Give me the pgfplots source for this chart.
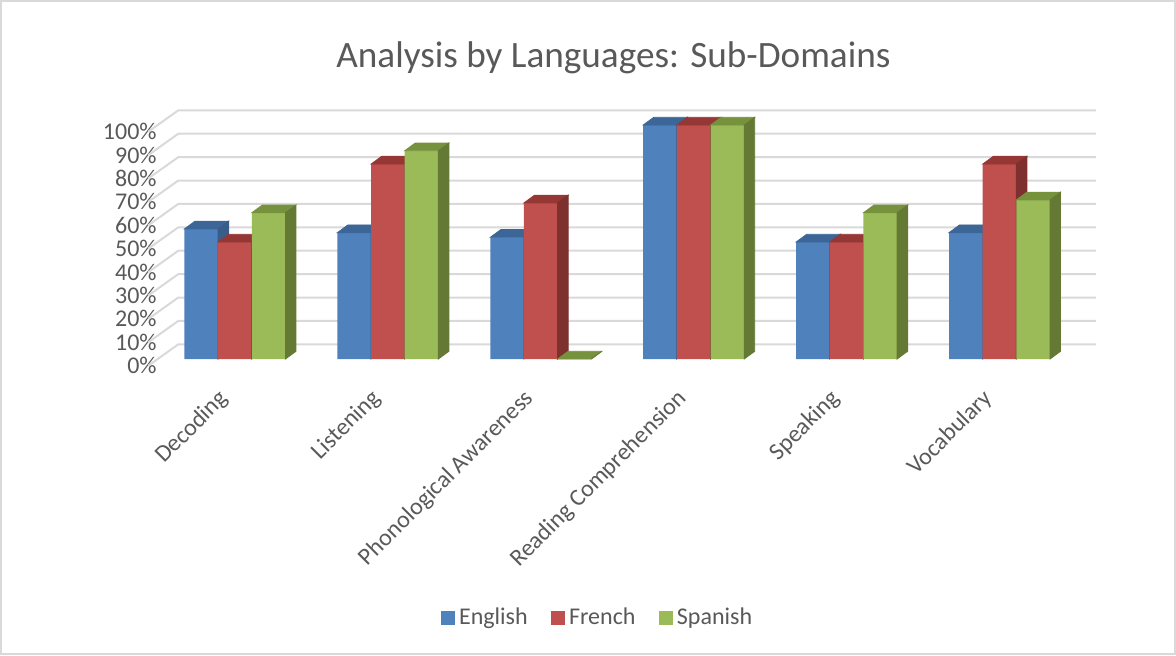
\documentclass[border=0pt]{standalone}
\usepackage{pgfplots}
\pgfplotsset{compat=1.18}
\usepackage{pgfplotstable}
\usepackage{fontspec}
\setmainfont{Carlito}

\definecolor{engc}{HTML}{4F81BD}
\definecolor{engtop}{HTML}{3D6698}
\definecolor{engside}{HTML}{385D8A}
\definecolor{frec}{HTML}{C0504D}
\definecolor{fretop}{HTML}{953735}
\definecolor{freside}{HTML}{7E302E}
\definecolor{spac}{HTML}{9BBB59}
\definecolor{spatop}{HTML}{76923C}
\definecolor{spaside}{HTML}{647A34}
\definecolor{gridc}{HTML}{D9D9D9}
\definecolor{textc}{HTML}{595959}

% share of students per sub-domain, in %
\pgfplotstableread{
x   en    fr    es
0   55.6  50    62.5
1   54    83.3  89
2   52    66.7  0
3   100   100   100
4   50    50    62.5
5   54    83.3  68
}\scores

\pgfdeclareplotmark{nothing}{}

% top and side faces of a bar, drawn at its top
\pgfplotsset{
  barface/.style 2 args={
    forget plot, only marks, scatter, mark=nothing,
    visualization depends on={rawy \as \bh},
    scatter/@pre marker code/.code={
      \begin{scope}
      \pgfmathsetmacro\hh{\bh*1.17}
      \pgfmathsetmacro\hb{3.85-\bh*1.17}
      \fill[#1] (-8.415pt,0pt) -- (8.415pt,0pt) -- (13.665pt,3.85pt) -- (-3.165pt,3.85pt) -- cycle;
      \fill[#2] (8.415pt,0pt) -- (13.665pt,3.85pt) -- (13.665pt,\hb pt) -- (8.415pt,-\hh pt) -- cycle;
    },
    scatter/@post marker code/.code={\end{scope}},
  },
}

\begin{document}
\begin{tikzpicture}
\path[use as bounding box] (0,0) rectangle (588pt,327.5pt);
\draw[gridc, line width=0.6pt] (0.5pt,0.5pt) rectangle (587.5pt,327pt);
\begin{axis}[
    at={(79.25pt,148pt)}, anchor=south west,
    scale only axis,
    width=458.75pt, height=117pt,
    xmin=-0.5, xmax=5.5,
    ymin=0, ymax=100,
    clip=false, clip marker paths=true,
    axis line style={draw=none},
    major tick length=0pt,
    xtick={0,...,5},
    xticklabels={Decoding, Listening, Phonological Awareness, Reading Comprehension, Speaking, Vocabulary},
    xticklabel style={xshift=-9pt, yshift=-14pt, rotate=45, anchor=north east, inner sep=0pt,
        font=\fontsize{12}{14}\selectfont, text=textc},
    ytick={0,10,...,100},
    yticklabels={0\%,10\%,20\%,30\%,40\%,50\%,60\%,70\%,80\%,90\%,100\%},
    yticklabel style={anchor=east, inner xsep=0pt, xshift=-0.75pt, yshift=-3.35pt,
        font=\fontsize{12}{14}\selectfont, text=textc},
    title={Analysis by Languages: Sub-Domains},
    title style={at={(axis description cs:0.4959,1.235)}, anchor=center,
        font=\fontsize{18.6}{22}\selectfont, text=textc},
    legend style={at={(axis description cs:0.4795,-1.107)}, anchor=center, draw=none,
        legend columns=3, font=\fontsize{12}{14}\selectfont, text=textc,
        /tikz/every even column/.append style={column sep=9.5pt}},
]
\pgfplotsinvokeforeach{0,10,...,100}{
  \draw[gridc, line width=1pt]
    ([shift={(-5.1pt,-3.35pt)}]axis cs:-0.5,#1) --
    ([shift={(9.9pt,7.35pt)}]axis cs:-0.5,#1) --
    ([shift={(9.9pt,7.35pt)}]axis cs:5.5,#1);
}
\addplot[ybar, bar width=16.83pt, bar shift=-16.83pt, fill=engc, draw=none,
  legend image code/.code={\fill[engc] (-2.5pt,-3.6pt) rectangle (4.7pt,3.6pt);}]
  table[x=x, y=en] {\scores};
\addlegendentry{English}
\addplot[barface={engtop}{engside}] table[x expr=\coordindex-0.2201, y=en] {\scores};
\addplot[ybar, bar width=16.83pt, bar shift=0pt, fill=frec, draw=none,
  legend image code/.code={\fill[frec] (-2.5pt,-3.6pt) rectangle (4.7pt,3.6pt);}]
  table[x=x, y=fr] {\scores};
\addlegendentry{French}
\addplot[barface={fretop}{freside}] table[x expr=\coordindex, y=fr] {\scores};
\addplot[ybar, bar width=16.83pt, bar shift=16.83pt, fill=spac, draw=none,
  legend image code/.code={\fill[spac] (-2.5pt,-3.6pt) rectangle (4.7pt,3.6pt);}]
  table[x=x, y=es] {\scores};
\addlegendentry{Spanish}
\addplot[barface={spatop}{spaside}] table[x expr=\coordindex+0.2201, y=es] {\scores};
\end{axis}
\end{tikzpicture}
\end{document}
